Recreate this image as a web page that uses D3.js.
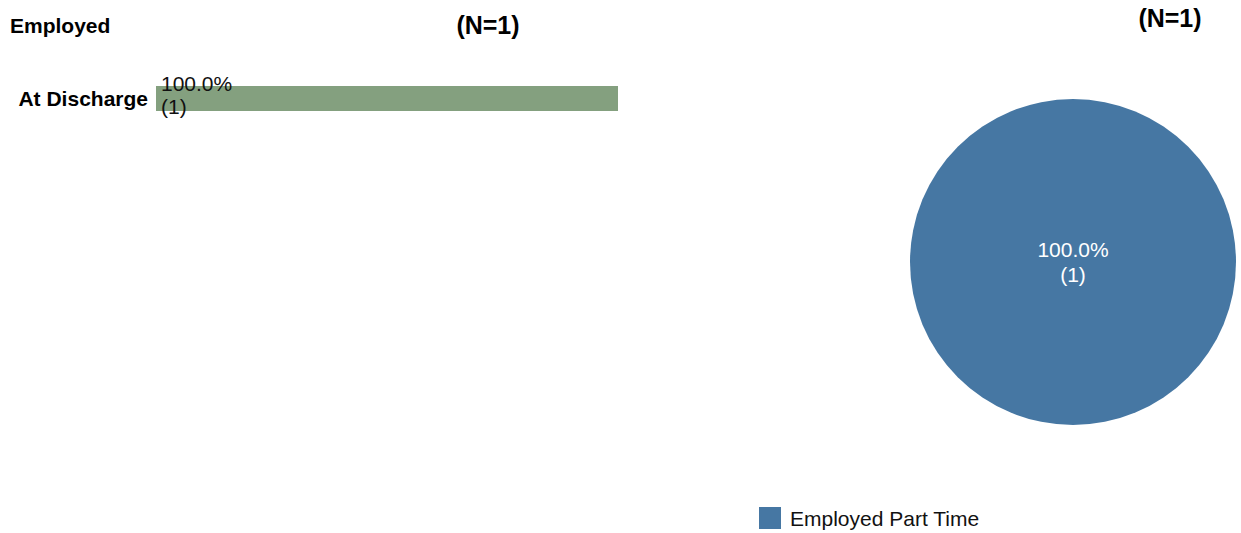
<!DOCTYPE html>
<html>
<head>
<meta charset="utf-8">
<script src="https://cdnjs.cloudflare.com/ajax/libs/d3/7.8.5/d3.min.js"></script>
<style>
  body { margin: 0; background: #fff; }
  svg { font-family: "Liberation Sans", Arial, sans-serif; }
</style>
</head>
<body>
<div id="chart"></div>
<script>
// data
var barCategories = ["At Discharge"];
var barValues = [1];
var barPercents = [100.0];
var pieLabels = ["Employed Part Time"];
var pieValues = [1];
var pieColors = ["#4677a3"];

var width = 1241;
var height = 533;

var svg = d3.select("#chart")
  .append("svg")
  .attr("width", width)
  .attr("height", height);

// left bar chart
var x = d3.scaleLinear().domain([0, 100]).range([156, 618]);
var y = d3.scaleBand().domain(barCategories).range([86, 111]).padding(0);

svg.append("text")
  .attr("x", 10)
  .attr("y", 33)
  .style("font-size", "21px")
  .style("font-weight", "bold")
  .text("Employed");

svg.append("text")
  .attr("x", 488)
  .attr("y", 34)
  .attr("text-anchor", "middle")
  .style("font-size", "25px")
  .style("font-weight", "bold")
  .text("(N=" + d3.sum(barValues) + ")");

svg.append("g")
  .selectAll("rect")
  .data(barCategories)
  .enter()
  .append("rect")
  .attr("x", x(0))
  .attr("y", function (d) { return y(d); })
  .attr("width", function (d, i) { return x(barPercents[i]) - x(0); })
  .attr("height", y.bandwidth())
  .attr("fill", "#84a07f");

svg.append("g")
  .selectAll("text")
  .data(barCategories)
  .enter()
  .append("text")
  .attr("x", 148)
  .attr("y", function (d) { return y(d) + y.bandwidth() / 2 + 7; })
  .attr("text-anchor", "end")
  .style("font-size", "21px")
  .style("font-weight", "bold")
  .text(function (d) { return d; });

var barLabels = svg.append("g")
  .selectAll("text")
  .data(barCategories)
  .enter()
  .append("text")
  .attr("x", x(0) + 5)
  .attr("y", function (d) { return y(d) + 5; })
  .style("font-size", "21px")
  .attr("fill", "#111");
barLabels.append("tspan")
  .attr("x", x(0) + 5)
  .text(function (d, i) { return barPercents[i].toFixed(1) + "%"; });
barLabels.append("tspan")
  .attr("x", x(0) + 5)
  .attr("dy", 23)
  .text(function (d, i) { return "(" + barValues[i] + ")"; });

// right pie chart
var cx = 1073, cy = 262, r = 163;

svg.append("text")
  .attr("x", 1170)
  .attr("y", 27)
  .attr("text-anchor", "middle")
  .style("font-size", "25px")
  .style("font-weight", "bold")
  .text("(N=" + d3.sum(pieValues) + ")");

var pie = d3.pie().sort(null)(pieValues);
var arc = d3.arc().innerRadius(0).outerRadius(r);
var total = d3.sum(pieValues);

var pg = svg.append("g").attr("transform", "translate(" + cx + "," + cy + ")");
pg.selectAll("path")
  .data(pie)
  .enter()
  .append("path")
  .attr("d", arc)
  .attr("fill", function (d, i) { return pieColors[i]; });

var pl = pg.selectAll("text.lbl")
  .data(pie)
  .enter()
  .append("text")
  .attr("class", "lbl")
  .attr("text-anchor", "middle")
  .attr("fill", "#fff")
  .style("font-size", "21px")
  .attr("transform", function (d) {
    if (pie.length === 1) return "translate(0,0)";
    return "translate(" + d3.arc().innerRadius(r * 0.6).outerRadius(r * 0.6).centroid(d) + ")";
  });
pl.append("tspan")
  .attr("x", 0)
  .attr("y", -5)
  .text(function (d) { return (d.value / total * 100).toFixed(1) + "%"; });
pl.append("tspan")
  .attr("x", 0)
  .attr("dy", 25)
  .text(function (d) { return "(" + d.value + ")"; });

// legend
var lg = svg.append("g")
  .selectAll("g")
  .data(pieLabels)
  .enter()
  .append("g")
  .attr("transform", function (d, i) { return "translate(759," + (507 + i * 28) + ")"; });
lg.append("rect")
  .attr("width", 22)
  .attr("height", 22)
  .attr("fill", function (d, i) { return pieColors[i]; });
lg.append("text")
  .attr("x", 31)
  .attr("y", 19)
  .style("font-size", "21px")
  .attr("fill", "#111")
  .text(function (d) { return d; });
</script>
</body>
</html>
